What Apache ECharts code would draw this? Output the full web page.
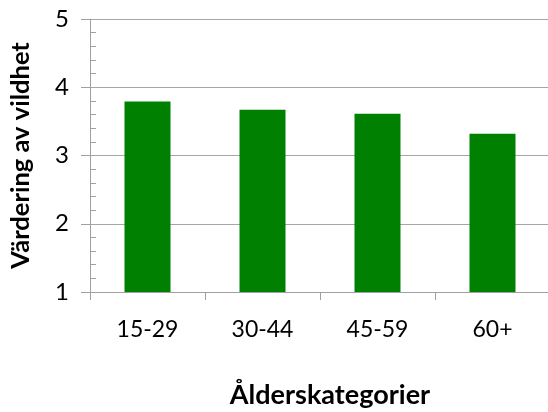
<!DOCTYPE html>
<html>
<head>
<meta charset="utf-8">
<script src="https://cdn.jsdelivr.net/npm/echarts@6/dist/echarts.min.js"></script>
<style>html,body{margin:0;padding:0;background:#fff;}#c{width:548px;height:412px;}</style>
</head>
<body>
<div id="c"></div>
<script>
var categories = ['15-29', '30-44', '45-59', '60+'];
var values = [3.79, 3.67, 3.61, 3.32];
var yTitle = 'Värdering av vildhet';
var xTitle = 'Ålderskategorier';
var yMin = 1, yMax = 5, yStep = 1;

var FONT = 'Lato';
var chart = echarts.init(document.getElementById('c'), null, {renderer: 'canvas'});
chart.setOption({
  animation: false,
  backgroundColor: '#fff',
  grid: {left: 90, top: 19, width: 460, height: 273, containLabel: false, outerBoundsMode: 'none'},
  xAxis: {
    type: 'category',
    data: categories,
    axisLine: {show: true, lineStyle: {color: '#a0a0a0', width: 1}},
    axisTick: {show: true, alignWithLabel: false, length: 8, lineStyle: {color: '#a0a0a0'}},
    axisLabel: {margin: 26, color: '#000', fontFamily: FONT, fontSize: 23},
    name: xTitle,
    nameLocation: 'middle',
    nameGap: 90,
    nameTextStyle: {color: '#000', fontFamily: FONT, fontSize: 27, fontWeight: 'bold', padding: [0, 0, 0, 20]}
  },
  yAxis: [{
    type: 'value',
    min: yMin, max: yMax, interval: yStep,
    axisLine: {show: true, lineStyle: {color: '#a0a0a0', width: 1}},
    axisTick: {show: true, length: 9, lineStyle: {color: '#a0a0a0'}},
    axisLabel: {margin: 21, color: '#000', fontFamily: FONT, fontSize: 24},
    splitLine: {show: true, lineStyle: {color: '#a6a6a6', width: 1}},
    name: yTitle,
    nameLocation: 'middle',
    nameGap: 56,
    nameRotate: 90,
    nameTextStyle: {color: '#000', fontFamily: FONT, fontSize: 25.5, fontWeight: 'bold'}
  }, {
    type: 'value',
    position: 'left',
    min: yMin, max: yMax, interval: yStep,
    axisLine: {show: false},
    axisTick: {show: false, inside: true},
    minorTick: {show: true, splitNumber: 5, length: 6, lineStyle: {color: '#a0a0a0'}},
    axisLabel: {show: false},
    splitLine: {show: false}
  }],
  series: [{
    type: 'bar',
    data: values,
    barWidth: 46,
    itemStyle: {color: '#008000'}
  }]
});
</script>
</body>
</html>
